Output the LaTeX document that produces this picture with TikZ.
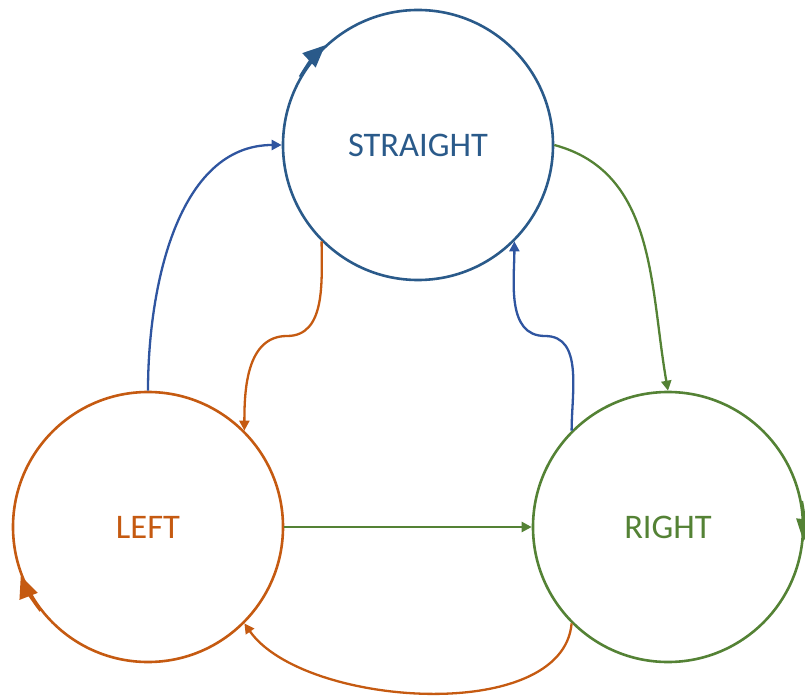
\documentclass[tikz,border=0pt]{standalone}
\usepackage{fontspec}
\setmainfont{Carlito}
\usetikzlibrary{arrows.meta}
\definecolor{sblue}{HTML}{2A5A8A}
\definecolor{mblue}{HTML}{2F55A0}
\definecolor{lorange}{HTML}{C55A11}
\definecolor{rgreen}{HTML}{548235}

\begin{document}
\begin{tikzpicture}[x=1pt,y=1pt]
                      \tikzstyle{state}=[circle,line width=2.6pt,minimum size=270pt,inner sep=0pt,font=\fontsize{34.5}{40}\selectfont]
                      \tikzstyle{move}=[line width=2.3pt,-{Triangle[length=10pt,width=10pt]}]
                      \tikzstyle{self}=[line width=2.6pt,-{Triangle[length=22pt,width=19pt]}]
                      \useasboundingbox (0,0) rectangle (805,697);
                      \node[state,draw=sblue,text=sblue] (s) at (418,552) {STRAIGHT};
                      \node[state,draw=lorange,text=lorange] (l) at (148,170) {LEFT};
                      \node[state,draw=rgreen,text=rgreen] (r) at (668,170) {RIGHT};
                      \coordinate (lk) at (287,361);
                      \coordinate (rk) at (545,361);
                      \draw[self,sblue] (s.150) arc[start angle=150,end angle=133,radius=136.3];
                      \draw[self,lorange] (l.218) arc[start angle=218,end angle=201,radius=136.3];
                      \draw[self,rgreen] (r.11) arc[start angle=11,end angle=-6,radius=136.3];
                      \draw[move,mblue] (l.north) to[out=90,in=180,looseness=0.95] (s.west);
                      \draw[move,rgreen] (s.east) to[out=-15,in=100] (r.north);
                      \draw[move,lorange] (s.225) to[out=-90,in=0] (lk) to[out=180,in=90] (l.45);
                      \draw[move,mblue] (r.135) to[out=90,in=0] (rk) to[out=180,in=-90] (s.-45);
                      \draw[move,rgreen] (l.east) -- (r.west);
                      \draw[move,lorange] (r.225) to[out=-95,in=-55,looseness=0.8] (l.-45);
                  \end{tikzpicture}
\end{document}
